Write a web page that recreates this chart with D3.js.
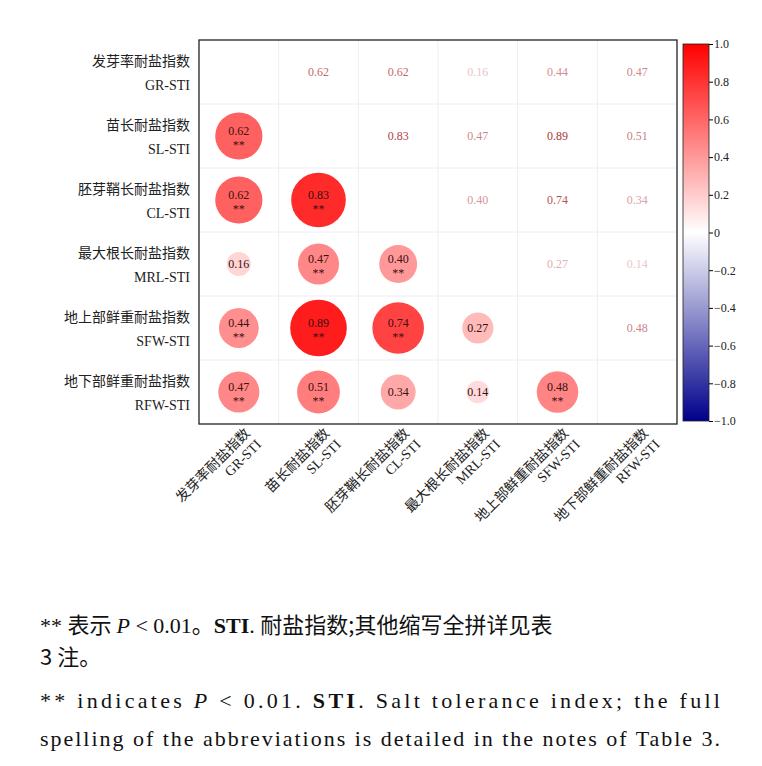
<!DOCTYPE html>
<html><head><meta charset="utf-8">
<script src="https://cdn.jsdelivr.net/npm/d3@7"></script>
<style>body{margin:0;background:#fff}</style>
</head><body>
<svg id="chart" width="762" height="766"></svg>
<script>
const namesZh = ['发芽率耐盐指数', '苗长耐盐指数', '胚芽鞘长耐盐指数', '最大根长耐盐指数', '地上部鲜重耐盐指数', '地下部鲜重耐盐指数'];
const namesEn = ['GR-STI', 'SL-STI', 'CL-STI', 'MRL-STI', 'SFW-STI', 'RFW-STI'];
// lower triangle correlations, row i vs columns 0..i-1
const corrRows = [
  [],
  [0.62],
  [0.62, 0.83],
  [0.16, 0.47, 0.40],
  [0.44, 0.89, 0.74, 0.27],
  [0.47, 0.51, 0.34, 0.14, 0.48]
];
const sigRows = [
  [],
  [true],
  [true, true],
  [false, true, true],
  [true, true, true, false],
  [true, true, false, false, true]
];
const barTicks = [1.0, 0.8, 0.6, 0.4, 0.2, 0, -0.2, -0.4, -0.6, -0.8, -1.0];

const svg = d3.select('#chart');
const serif = '"Liberation Serif","Times New Roman",serif';
const zh = '"Noto Sans CJK SC",sans-serif';
const gx0 = 199, gy0 = 40, W = 478, H = 384;
const n = namesEn.length;
const x = d3.scaleBand().domain(d3.range(n)).range([gx0, gx0 + W]);
const y = d3.scaleBand().domain(d3.range(n)).range([gy0, gy0 + H]);
const color = d3.scaleLinear().domain([-1, 0, 1]).range(['#00008b', '#ffffff', '#ff0000']);
const rad = d3.scaleSqrt().domain([0, 1]).range([0, 30]);

// grid
const g = svg.append('g');
d3.range(1, n).forEach(i => {
  g.append('line').attr('x1', x(i)).attr('x2', x(i)).attr('y1', gy0).attr('y2', gy0 + H).attr('stroke', '#eceef2');
  g.append('line').attr('y1', y(i)).attr('y2', y(i)).attr('x1', gx0).attr('x2', gx0 + W).attr('stroke', '#eceef2');
});
g.append('rect').attr('x', gx0).attr('y', gy0).attr('width', W).attr('height', H)
  .attr('fill', 'none').attr('stroke', '#222').attr('stroke-width', 1.3);

const cells = [];
corrRows.forEach((row, i) => row.forEach((v, j) => cells.push({i, j, v, s: sigRows[i][j]})));

cells.forEach(d => {
  // lower: circles
  const cx = x(d.j) + x.bandwidth() / 2, cy = y(d.i) + y.bandwidth() / 2;
  g.append('circle').attr('cx', cx).attr('cy', cy).attr('r', rad(Math.abs(d.v))).attr('fill', color(d.v));
  g.append('text').attr('x', cx).attr('y', d.s ? cy - 1 : cy + 4).attr('text-anchor', 'middle')
    .attr('font-family', serif).attr('font-size', 12).attr('fill', '#3a1010').text(d.v.toFixed(2));
  if (d.s) g.append('text').attr('x', cx).attr('y', cy + 13).attr('text-anchor', 'middle')
    .attr('font-family', serif).attr('font-size', 12).attr('fill', '#3a1010').text('**');
  // upper: mirrored text
  const ux = x(d.i) + x.bandwidth() / 2, uy = y(d.j) + y.bandwidth() / 2;
  g.append('text').attr('x', ux).attr('y', uy + 4).attr('text-anchor', 'middle')
    .attr('font-family', serif).attr('font-size', 12)
    .attr('fill', d3.interpolateRgb('#f4e4e6', '#a82a2a')(Math.min(1, d.v * 1.05))).text(d.v.toFixed(2));
});

// row labels
namesZh.forEach((t, i) => {
  const cy = y(i) + y.bandwidth() / 2;
  g.append('text').attr('x', 190).attr('y', cy - 6).attr('text-anchor', 'end')
    .attr('font-family', zh).attr('font-size', 14).attr('fill', '#222').text(t);
  g.append('text').attr('x', 190).attr('y', cy + 18).attr('text-anchor', 'end')
    .attr('font-family', serif).attr('font-size', 14).attr('fill', '#222').text(namesEn[i]);
});

// column labels
namesZh.forEach((t, j) => {
  const cx = x(j) + x.bandwidth() / 2;
  const lg = g.append('g').attr('transform', `translate(${cx + 12},${gy0 + H + 10}) rotate(-45)`);
  lg.append('text').attr('x', 0).attr('y', 0).attr('text-anchor', 'end')
    .attr('font-family', zh).attr('font-size', 14).attr('fill', '#222').text(t);
  lg.append('text').attr('x', 0).attr('y', 16).attr('text-anchor', 'end')
    .attr('font-family', serif).attr('font-size', 14).attr('fill', '#222').text(namesEn[j]);
});

// colour bar
const bx = 683, bw = 26, by0 = 44, by1 = 421;
const defs = svg.append('defs');
const grad = defs.append('linearGradient').attr('id', 'cb').attr('x1', 0).attr('x2', 0).attr('y1', 0).attr('y2', 1);
d3.range(0, 1.001, 0.1).forEach(t => grad.append('stop').attr('offset', t).attr('stop-color', color(1 - 2 * t)));
svg.append('rect').attr('x', bx).attr('y', by0).attr('width', bw).attr('height', by1 - by0)
  .attr('fill', 'url(#cb)').attr('stroke', '#222').attr('stroke-width', 0.8);
const by = d3.scaleLinear().domain([1, -1]).range([by0, by1]);
const axis = svg.append('g').attr('transform', `translate(${bx + bw},0)`)
  .call(d3.axisRight(by).tickValues(barTicks).tickSize(4));
axis.select('.domain').remove();
axis.selectAll('text').attr('font-family', serif).attr('font-size', 12).attr('fill', '#222').attr('x', 5)
  .text(v => v === 0 ? '0' : (v < 0 ? '\u2212' : '') + Math.abs(v).toFixed(1));

// caption
const cap = svg.append('g').attr('font-size', 22).attr('fill', '#111');
const l1 = cap.append('text').attr('x', 40).attr('y', 633).attr('font-family', zh);
l1.append('tspan').attr('font-family', serif).text('** ');
l1.append('tspan').text('表示 ');
l1.append('tspan').attr('font-family', serif).attr('font-style', 'italic').text('P');
l1.append('tspan').attr('font-family', serif).text(' < 0.01');
l1.append('tspan').text('。');
l1.append('tspan').attr('font-family', serif).attr('font-weight', 'bold').text('STI');
l1.append('tspan').attr('font-family', serif).text('. ');
l1.append('tspan').text('耐盐指数;其他缩写全拼详见表');
cap.append('text').attr('x', 40).attr('y', 665).attr('font-family', zh).text('3 注。');
const l3 = cap.append('text').attr('x', 40).attr('y', 708).attr('font-family', serif)
  .attr('textLength', 680).attr('lengthAdjust', 'spacing');
l3.append('tspan').text('** indicates ');
l3.append('tspan').attr('font-style', 'italic').text('P');
l3.append('tspan').text(' < 0.01. ');
l3.append('tspan').attr('font-weight', 'bold').text('STI');
l3.append('tspan').text('. Salt tolerance index; the full');
cap.append('text').attr('x', 40).attr('y', 746).attr('font-family', serif)
  .attr('textLength', 680).attr('lengthAdjust', 'spacing')
  .text('spelling of the abbreviations is detailed in the notes of Table 3.');
</script>
</body></html>
